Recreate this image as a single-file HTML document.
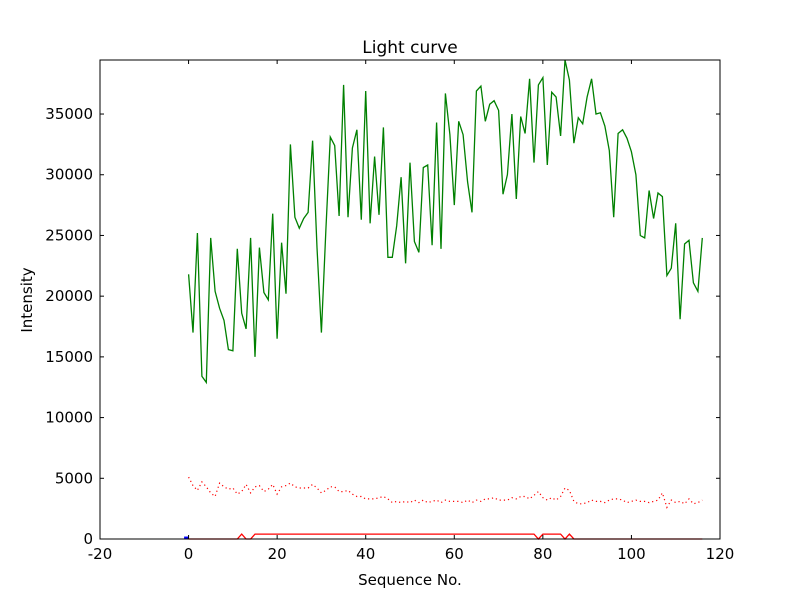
<!DOCTYPE html>
<html><head><meta charset="utf-8"><style>
body{margin:0;background:#fff;}
svg{display:block;font-family:"DejaVu Sans","Liberation Sans",sans-serif;}
</style></head><body>
<svg id="chart" width="800" height="600">
<rect width="800" height="600" fill="#fff"/>
<g id="plot"></g>
<rect x="100" y="60" width="620" height="479" fill="none" stroke="#000" stroke-width="1"/>
<g id="axes"></g>
<text x="410" y="53" text-anchor="middle" font-size="17">Light curve</text>
<text x="410" y="585" text-anchor="middle" font-size="15">Sequence No.</text>
<text x="32" y="300" text-anchor="middle" font-size="15" transform="rotate(-90 32 300)">Intensity</text>
</svg>
<script>
const greenValues=[21800,17000,25200,13400,12900,24800,20400,19000,18000,15600,15500,23900,18600,17300,24800,15000,24000,20300,19700,26800,16500,24400,20200,32500,26500,25600,26400,26900,32800,24000,17000,25500,33100,32400,26600,37400,26500,32200,33700,26300,36900,26000,31500,26700,33900,23200,23200,25800,29800,22700,31000,24500,23600,30600,30800,24200,34300,23900,36700,33300,27500,34400,33300,29400,26900,36900,37300,34400,35800,36100,35300,28400,30000,35000,28000,34800,33400,37900,31000,37400,38000,30800,36800,36400,33200,39450,37800,32600,34700,34200,36400,37900,35000,35100,34000,32000,26500,33400,33700,33000,31900,30000,25000,24800,28700,26400,28500,28200,21700,22300,26000,18100,24300,24600,21100,20400,24800];
const redDotValues=[5100,4400,4000,4700,4300,3800,3500,4600,4300,4100,4200,3700,3900,4500,3800,4300,4400,3900,4100,4500,3700,4300,4400,4600,4300,4200,4200,4200,4500,4200,3800,4000,4300,4300,3900,3900,4000,3700,3500,3500,3300,3300,3300,3400,3500,3300,3000,3100,3000,3100,3000,3200,3000,3200,3000,3100,3200,3000,3200,3100,3100,3100,3000,3200,3000,3200,3100,3300,3300,3400,3200,3200,3200,3400,3300,3500,3500,3300,3600,3900,3400,3200,3400,3200,3500,4200,4000,3100,2900,2900,3000,3200,3100,3100,3000,3200,3300,3300,3200,3000,3100,3200,3100,3100,3000,3100,3200,3800,2600,3200,3000,3100,2900,3300,2900,3000,3200];
const redLineValues=[0,0,0,0,0,0,0,0,0,0,0,0,400,0,0,400,400,400,400,400,400,400,400,400,400,400,400,400,400,400,400,400,400,400,400,400,400,400,400,400,400,400,400,400,400,400,400,400,400,400,400,400,400,400,400,400,400,400,400,400,400,400,400,400,400,400,400,400,400,400,400,400,400,400,400,400,400,400,400,0,400,400,400,400,400,0,400,0,0,0,0,0,0,0,0,0,0,0,0,0,0,0,0,0,0,0,0,0,0,0,0,0,0,0,0,0,0];
const blueXs=[-1,0];
const blueValues=[100,100];
const xTicks=[-20,0,20,40,60,80,100,120];
const yTicks=[0,5000,10000,15000,20000,25000,30000,35000];
const X0=100,X1=720,Y0=539,Y1=60,XMIN=-20,XMAX=120,YMIN=0,YMAX=39450;
const sx=v=>X0+(v-XMIN)/(XMAX-XMIN)*(X1-X0);
const sy=v=>Y0-(v-YMIN)/(YMAX-YMIN)*(Y0-Y1);
const NS='http://www.w3.org/2000/svg';
const plot=document.getElementById('plot'),axes=document.getElementById('axes');
function mk(tag,attrs,parent){const e=document.createElementNS(NS,tag);for(const k in attrs)e.setAttribute(k,attrs[k]);parent.appendChild(e);return e;}
function pts(xs,ys){return ys.map((v,i)=>sx(xs?xs[i]:i).toFixed(1)+','+sy(v).toFixed(1)).join(' ');}
let g=mk('polyline',{points:pts(null,greenValues),fill:'none',stroke:'#008000','stroke-width':1.3},plot);


let rd=mk('polyline',{points:pts(null,redDotValues),fill:'none',stroke:'#ff0000','stroke-width':1.2,'stroke-dasharray':'1.2,3'},plot);


let rl=mk('polyline',{points:pts(null,redLineValues),fill:'none',stroke:'#ff0000','stroke-width':1.3},plot);


let bl=mk('polyline',{points:pts(blueXs,blueValues),fill:'none',stroke:'#0000ff','stroke-width':2.5},plot);


xTicks.forEach(t=>{const x=sx(t);
 mk('line',{x1:x,x2:x,y1:Y0,y2:Y0-4,stroke:'#000'},axes);
 mk('line',{x1:x,x2:x,y1:Y1,y2:Y1+4,stroke:'#000'},axes);
 const tx=mk('text',{x:x,y:Y0+20,'text-anchor':'middle','font-size':15},axes);tx.textContent=t;
 
 });
yTicks.forEach(t=>{const y=sy(t);
 mk('line',{x1:X0,x2:X0+4,y1:y,y2:y,stroke:'#000'},axes);
 mk('line',{x1:X1,x2:X1-4,y1:y,y2:y,stroke:'#000'},axes);
 const tx=mk('text',{x:X0-7,y:y+5,'text-anchor':'end','font-size':15},axes);tx.textContent=t;
 
 });
</script>
</body></html>
